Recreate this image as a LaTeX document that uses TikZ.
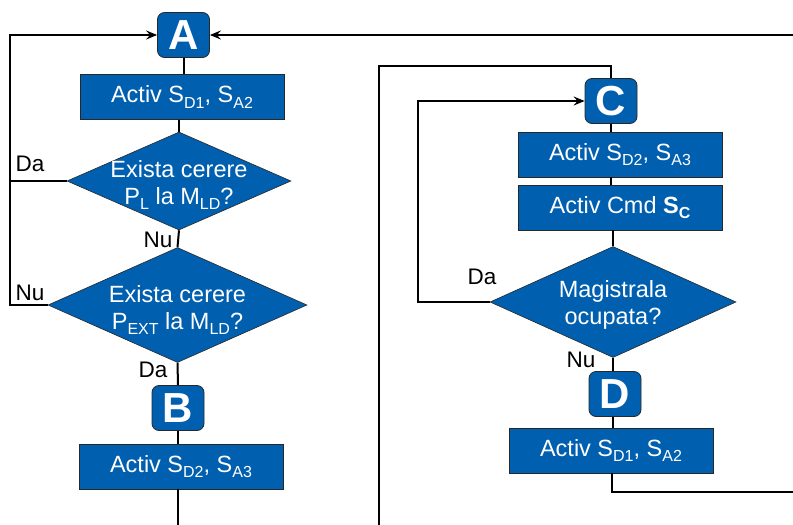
\documentclass[tikz,border=0pt]{standalone}
\usepackage{fontspec}
\setmainfont{Liberation Sans}
\usetikzlibrary{shapes.geometric,arrows.meta}
\definecolor{flowblue}{RGB}{0,95,175}
\definecolor{edgegray}{RGB}{40,40,40}
% subscript in the style of the slide text
\newcommand{\lowidx}[1]{\raisebox{-5.5pt}{\fontsize{16}{16}\selectfont #1}}
\begin{document}
\begin{tikzpicture}[x=1pt,y=-1pt,
  every node/.style={font=\fontsize{23.5}{27}\selectfont},
  stepbox/.style={rectangle,draw=edgegray,line width=0.8pt,fill=flowblue,text=white,
    minimum width=204pt,minimum height=45pt,inner sep=0pt},
  letterbox/.style={rectangle,rounded corners=7pt,draw=edgegray,line width=0.8pt,fill=flowblue,
    text=white,minimum width=52pt,minimum height=45pt,inner sep=0pt,
    font=\fontsize{42}{42}\selectfont\bfseries},
  decision/.style={diamond,draw=edgegray,line width=0.6pt,fill=flowblue,inner sep=0pt,
    text=white},
  tag/.style={text=black,font=\fontsize{22.5}{25}\selectfont,inner sep=0pt},
  link/.style={draw=black,line width=2pt},
  arr/.style={link,-{Stealth[length=11pt,width=9pt,inset=4pt]}}]
\useasboundingbox (0,0) rectangle (793,525);

% left column
\node[letterbox] (A) at (183.5,35) {A};
\node[stepbox] (b1) at (182,97) {Activ S\lowidx{D1}, S\lowidx{A2}};
\node[decision,minimum width=224pt,minimum height=98pt] (d1) at (179,181) {};
\node[text=white,align=center] (d1t) at (179,185) {Exista cerere\\P\lowidx{L} la M\lowidx{LD}?};
\node[decision,minimum width=259pt,minimum height=115pt] (d2) at (177.5,305) {};
\node[text=white,align=center] (d2t) at (177.5,310) {Exista cerere\\P\lowidx{EXT} la M\lowidx{LD}?};
\node[letterbox] (B) at (178,408) {B};
\node[stepbox] (b2) at (181,466.5) {Activ S\lowidx{D2}, S\lowidx{A3}};

% right column
\node[letterbox] (C) at (611,101) {C};
\node[stepbox] (b3) at (620,154.5) {Activ S\lowidx{D2}, S\lowidx{A3}};
\node[stepbox] (b4) at (620,207.5) {Activ Cmd \textbf{S}\lowidx{\bfseries C}};
\node[decision,minimum width=246pt,minimum height=111pt] (d3) at (613,302) {};
\node[text=white,align=center] (d3t) at (613,305) {Magistrala\\ocupata?};
\node[letterbox] (D) at (615,394) {D};
\node[stepbox] (b5) at (611,450.5) {Activ S\lowidx{D1}, S\lowidx{A2}};

% branch labels
\node[tag] (lda1) at (30,164) {Da};
\node[tag] (lnu1) at (158,240) {Nu};
\node[tag] (lnu2) at (30,293) {Nu};
\node[tag] (lda2) at (153,370) {Da};
\node[tag] (lda3) at (482,277) {Da};
\node[tag] (lnu3) at (581,360) {Nu};

% routing points
\coordinate (L) at (10,35);
\coordinate (R) at (793,35);
\coordinate (E1) at (178,525);
\coordinate (O1) at (379,525);
\coordinate (Ctop) at (611,66);
\coordinate (I) at (418,101);
\coordinate (Q) at (612,492);
\coordinate (E2) at (793,492);

% left column connectors
\draw[link] (A.south) -- (A.south |- b1.north);
\draw[link] (179,119.5) -- (d1.north);
\draw[link] (d1.south) -- (d2.north);
\draw[link] (d2.south) -- (B.north);
\draw[link] (B.south) -- (B.south |- b2.north);
\draw[link] (b2.south -| B.south) -- (E1);
\draw[arr] (d2.west) -| (L) -- (A.west);
\draw[link] (d1.west) -- (d1.west -| L);
\draw[arr] (R) -- (A.east);

% right column connectors
\draw[link] (O1) |- (Ctop) -- (C.north);
\draw[arr] (d3.west) -| (I) -- (C.west);
\draw[link] (C.south) -- (C.south |- b3.north);
\draw[link] (b3.south -| C.south) -- (C.south |- b4.north);
\draw[link] (b4.south -| d3.north) -- (d3.north);
\draw[link] (d3.south) -- (d3.south |- D.north);
\draw[link] (D.south -| d3.south) -- (d3.south |- b5.north);
\draw[link] (b5.south -| Q) -- (Q) -- (E2);
\end{tikzpicture}
\end{document}
